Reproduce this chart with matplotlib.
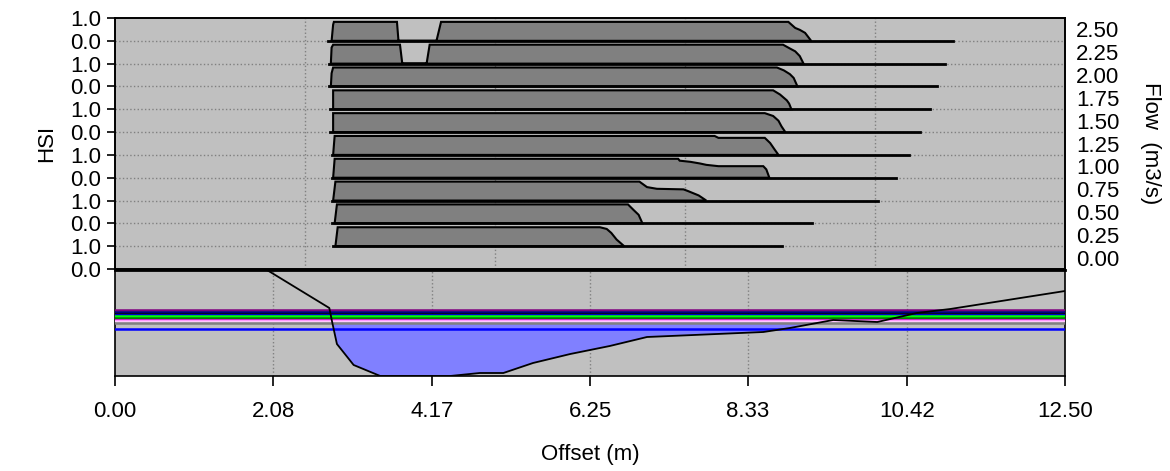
import numpy as np
import matplotlib.pyplot as plt

plt.rcParams['font.family'] = ['Liberation Sans', 'DejaVu Sans']

# Flows (m3/s), one HSI row per flow, top row first
flows = [2.50, 2.25, 2.00, 1.75, 1.50, 1.25, 1.00, 0.75, 0.50, 0.25]

# HSI profiles along the offset (m)
x_250 = [2.85, 2.87, 2.88, 3.71, 3.73, 4.23, 4.29, 8.86, 8.95, 9.01, 9.08, 9.16]
h_250 = [0, 0.85, 1, 1, 0, 0, 1, 1, 0.68, 0.58, 0.42, 0]
x_225 = [2.84, 2.85, 2.87, 3.75, 3.78, 4.10, 4.14, 8.79, 8.88, 8.95, 9.01, 9.06]
h_225 = [0, 0.85, 1, 1, 0, 0, 1, 1, 0.8, 0.65, 0.4, 0]
x_200 = [2.84, 2.85, 2.87, 8.71, 8.80, 8.88, 8.93, 8.98]
h_200 = [0, 0.7, 1, 1, 0.85, 0.65, 0.45, 0]
x_175 = [2.87, 2.87, 8.66, 8.75, 8.84, 8.87, 8.90]
h_175 = [0, 1, 1, 0.78, 0.47, 0.3, 0]
x_150 = [2.87, 2.87, 8.55, 8.66, 8.73, 8.77, 8.82]
h_150 = [0, 1, 1, 0.85, 0.6, 0.3, 0]
x_125 = [2.87, 2.89, 7.89, 7.94, 8.55, 8.62, 8.68, 8.73]
h_125 = [0, 1, 1, 0.9, 0.9, 0.63, 0.28, 0]
x_100 = [2.87, 2.89, 7.41, 7.43, 7.57, 7.70, 7.78, 7.94, 8.53, 8.57, 8.61]
h_100 = [0, 1, 1, 0.9, 0.84, 0.75, 0.68, 0.61, 0.61, 0.44, 0]
x_075 = [2.87, 2.90, 6.90, 7.00, 7.13, 7.48, 7.54, 7.68, 7.78]
h_075 = [0, 1, 1, 0.71, 0.62, 0.59, 0.5, 0.27, 0]
x_050 = [2.89, 2.92, 6.75, 6.82, 6.89, 6.92, 6.94]
h_050 = [0, 1, 1, 0.72, 0.45, 0.18, 0]
x_025 = [2.90, 2.93, 6.38, 6.47, 6.53, 6.60, 6.70]
h_025 = [0, 1, 1, 0.91, 0.7, 0.35, 0]

profiles_x = [x_250, x_225, x_200, x_175, x_150, x_125, x_100, x_075, x_050, x_025]
profiles_h = [h_250, h_225, h_200, h_175, h_150, h_125, h_100, h_075, h_050, h_025]

# wetted extent of each row (m)
row_start = [2.80, 2.82, 2.81, 2.83, 2.83, 2.85, 2.85, 2.85, 2.86, 2.87]
row_end = [11.03, 10.92, 10.82, 10.72, 10.59, 10.45, 10.28, 10.04, 9.17, 8.78]

# cross section: offset (m) and bed elevation (m)
bed_x = [2.00, 2.82, 2.86, 2.92, 3.14, 3.49, 4.41, 4.80, 5.11, 5.50, 5.99,
         6.51, 7.00, 8.53, 8.88, 9.45, 10.03, 10.55, 10.99, 12.50]
bed_z = [1.06, 0.68, 0.53, 0.32, 0.11, 0.0, 0.0, 0.03, 0.03, 0.13, 0.22,
         0.30, 0.39, 0.44, 0.48, 0.56, 0.54, 0.63, 0.67, 0.85]

# water surface elevations (m) per flow
wse = [0.66, 0.64, 0.625, 0.615, 0.60, 0.58, 0.56, 0.55, 0.53, 0.47]
wse_colors = ['#800080', '#000080', '#000000', '#0000ff', '#00ff00',
              '#008000', '#ff00ff', '#ffc8ff', '#808080', '#0000ff']
fill_level = 0.55

xticks = [0.00, 2.08, 4.17, 6.25, 8.33, 10.42, 12.50]
flow_ticks = ['0.00', '0.25', '0.50', '0.75', '1.00', '1.25', '1.50',
              '1.75', '2.00', '2.25', '2.50']

fs = 16
bg = '#c0c0c0'
fig = plt.figure(figsize=(11.7, 4.71), dpi=100)
ax = fig.add_axes([115/1170, 1 - 269/471, 950/1170, 251/471])
ax2 = fig.add_axes([115/1170, 1 - 376/471, 950/1170, 106/471])

# --- HSI panel ---
ax.set_facecolor(bg)
ax.set_xlim(0, 12.5)
ax.set_ylim(0, 11)
for v in [2.5, 5.0, 7.5, 10.0]:
    ax.axvline(v, color='#808080', ls=':', lw=1, zorder=1)
for v in range(1, 11):
    ax.axhline(v, color='#808080', ls=':', lw=1, zorder=1)

scale = 0.83
for q, px, ph, s, e in zip(flows, profiles_x, profiles_h, row_start, row_end):
    base = q / 0.25
    yy = base + scale * np.array(ph)
    ax.fill(px, yy, facecolor='#808080', edgecolor='black', lw=1.5, zorder=2)
    ax.plot([s, e], [base, base], color='black', lw=2, zorder=3)

ax.set_xticks([])
ax.set_yticks(range(12))
labs = ['1.0' if (11 - i) % 2 == 0 else '0.0' for i in range(12)]
ax.set_yticklabels(labs, fontsize=fs)
ax.tick_params(axis='y', length=6, width=1.2, pad=4)
ax.set_ylabel('HSI', fontsize=fs, labelpad=9)

axr = ax.twinx()
axr.set_ylim(0, 11)
axr.set_yticks(np.arange(11) + 0.5)
axr.set_yticklabels(flow_ticks, fontsize=fs)
axr.tick_params(axis='y', length=0, pad=8)
axr.set_ylabel('Flow  (m3/s)', fontsize=fs, rotation=270, labelpad=30)

for a in (ax, axr):
    for sp in a.spines.values():
        sp.set_linewidth(1.2)

# --- cross section panel ---
ax2.set_facecolor(bg)
ax2.set_xlim(0, 12.5)
ax2.set_ylim(0, 1.06)
for v in xticks[1:-1]:
    ax2.axvline(v, color='#808080', ls=':', lw=1, zorder=1)

bx = np.array(bed_x)
bz = np.array(bed_z)
ax2.fill_between(bx, bz, fill_level, where=bz < fill_level, interpolate=True,
                 color='#8080ff', lw=0, zorder=2)
for z, c in zip(wse, wse_colors):
    ax2.axhline(z, color=c, lw=1.8, zorder=3)
ax2.plot(bx, bz, color='black', lw=1.3, zorder=4)

ax2.set_yticks([])
ax2.set_xticks(xticks)
ax2.set_xticklabels(['%.2f' % t for t in xticks], fontsize=fs)
ax2.tick_params(axis='x', length=7, width=1.2, pad=11)
ax2.set_xlabel('Offset (m)', fontsize=fs, labelpad=16)
for sp in ax2.spines.values():
    sp.set_linewidth(1.2)
ax2.spines['top'].set_linewidth(2)

fig.savefig('out.png', dpi=100)
